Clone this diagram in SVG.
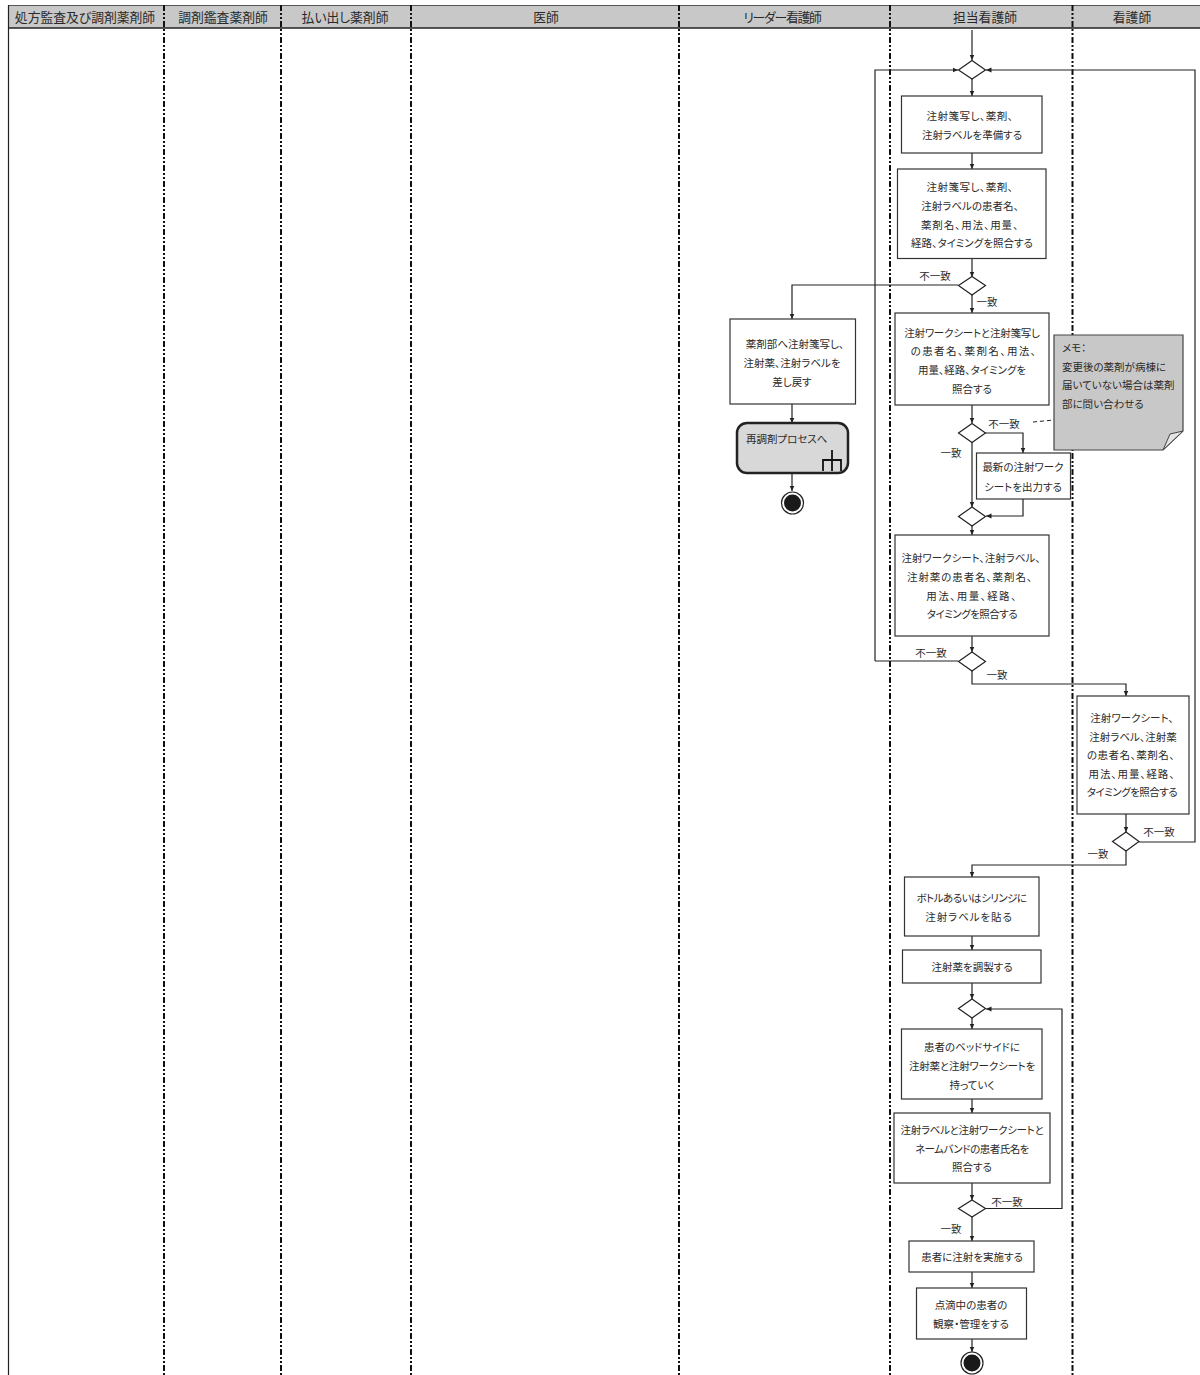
<svg xmlns="http://www.w3.org/2000/svg" width="1200" height="1375" viewBox="0 0 1200 1375">
<style>
text{font-family:"Noto Sans CJK JP","Noto Sans",sans-serif;fill:#2a2a2a;font-size:10.5px;text-anchor:middle;font-feature-settings:"palt"}
.h{font-size:12.8px}
.l{text-anchor:start}
.b{fill:#fff;stroke:#333;stroke-width:1.2}
.d{fill:#fff;stroke:#222;stroke-width:1.2}
.c{fill:none;stroke:#222;stroke-width:1.2}
.lane{stroke:#111;stroke-width:2;stroke-dasharray:6 2 2 2 2 2;fill:none}
.s1{letter-spacing:.5px}
.s2{letter-spacing:.9px}
.s3{letter-spacing:1.4px}
.n1{letter-spacing:-.5px}
.t{letter-spacing:-1.2px}
</style>
<defs>
<marker id="a" markerWidth="6" markerHeight="6" refX="5.500" refY="3" orient="auto" markerUnits="userSpaceOnUse"><path d="M0 0.500L5.500 3L0 5.500z" fill="#222"/></marker>
</defs>
<rect width="1200" height="1375" fill="#fff"/>
<g id="header">
<rect x="8" y="5" width="1192" height="23" fill="#c8c8c8"/>
<path d="M8 5.500H1200" stroke="#555" stroke-width="1"/>
<path d="M8 28H1200" stroke="#222" stroke-width="1.500"/>
<path d="M8.500 5V1375" stroke="#222" stroke-width="1.200"/>
<text class="h" x="85" y="22">処方監査及び調剤薬剤師</text>
<text class="h" x="223" y="22">調剤鑑査薬剤師</text>
<text class="h" x="345" y="22">払い出し薬剤師</text>
<text class="h" x="546" y="22">医師</text>
<text class="h t" x="782" y="22">リーダー看護師</text>
<text class="h" x="985" y="22">担当看護師</text>
<text class="h" x="1132" y="22">看護師</text>
</g>
<g id="lanes">
<path class="lane" d="M164 5V1375"/>
<path class="lane" d="M281 5V1375"/>
<path class="lane" d="M411 5V1375"/>
<path class="lane" d="M679 5V1375"/>
<path class="lane" d="M890 5V1375"/>
<path class="lane" d="M1072.500 5V1375"/>
</g>
<g id="connectors">
<path class="c" marker-end="url(#a)" d="M972 30V60"/>
<path class="c" marker-end="url(#a)" d="M875 661V70H958"/>
<path class="c" marker-end="url(#a)" d="M1139 842H1195V70H986"/>
<path class="c" marker-end="url(#a)" d="M972 79V96"/>
<path class="c" marker-end="url(#a)" d="M972 153V169"/>
<path class="c" marker-end="url(#a)" d="M972 258V277"/>
<path class="c" marker-end="url(#a)" d="M958 285H792V319"/>
<path class="c" marker-end="url(#a)" d="M972 295V313"/>
<path class="c" marker-end="url(#a)" d="M792 404V423"/>
<path class="c" marker-end="url(#a)" d="M792 473V491"/>
<path class="c" marker-end="url(#a)" d="M972 405V423"/>
<path class="c" marker-end="url(#a)" d="M985 433H1023V453"/>
<path class="c" marker-end="url(#a)" d="M972 442V507"/>
<path class="c" marker-end="url(#a)" d="M1023 499V516H986"/>
<path class="c" marker-end="url(#a)" d="M972 526V535"/>
<path class="c" marker-end="url(#a)" d="M972 636V652"/>
<path class="c" d="M958 661H875"/>
<path class="c" marker-end="url(#a)" d="M972 671V684H1126V696"/>
<path class="c" marker-end="url(#a)" d="M1126 814V832"/>
<path class="c" marker-end="url(#a)" d="M1126 851V865H972V877"/>
<path class="c" marker-end="url(#a)" d="M972 936V950"/>
<path class="c" marker-end="url(#a)" d="M972 983V999"/>
<path class="c" marker-end="url(#a)" d="M972 1018V1029"/>
<path class="c" marker-end="url(#a)" d="M972 1099V1113"/>
<path class="c" marker-end="url(#a)" d="M972 1183V1200"/>
<path class="c" marker-end="url(#a)" d="M985 1208.500H1062V1009H986"/>
<path class="c" marker-end="url(#a)" d="M972 1217V1241"/>
<path class="c" marker-end="url(#a)" d="M972 1272V1288"/>
<path class="c" marker-end="url(#a)" d="M972 1339V1352"/>
<path d="M1033 422L1054 420" stroke="#222" stroke-width="1" stroke-dasharray="4 3" fill="none"/>
</g>
<g id="d1"><path class="d" d="M958.500 70L972 60.500L985.500 70L972 79z"/></g>
<g id="n1"><rect class="b" x="901.500" y="96" width="140.500" height="57"/><text class="s1" x="970" y="120">注射箋写し、薬剤、</text><text x="972" y="139">注射ラベルを準備する</text></g>
<g id="n2"><rect class="b" x="897.500" y="169" width="148.500" height="89.500"/><text class="s1" x="970" y="191">注射箋写し、薬剤、</text><text x="970" y="210">注射ラベルの患者名、</text><text class="s2" x="970" y="229">薬剤名、用法、用量、</text><text x="972" y="247">経路、タイミングを照合する</text></g>
<g id="d2"><path class="d" d="M958.500 285.500L972 276.500L985.500 285.500L972 295z"/></g>
<g id="n3"><rect class="b" x="730" y="319" width="125.500" height="85"/><text x="795" y="348">薬剤部へ注射箋写し、</text><text x="792" y="367">注射薬、注射ラベルを</text><text x="792" y="386">差し戻す</text></g>
<g id="sub"><rect x="737" y="423" width="111" height="50" rx="10" fill="#d8d8d8" stroke="#222" stroke-width="2.500"/><text class="l" x="746" y="443">再調剤プロセスへ</text><path d="M823 471V460H841V471M832 450V471" fill="none" stroke="#111" stroke-width="1.800"/></g>
<g id="end1"><circle cx="792.500" cy="503" r="11" fill="#fff" stroke="#222" stroke-width="1.200"/><circle cx="792.500" cy="503" r="8.500" fill="#1a1a1a"/></g>
<g id="n4"><rect class="b" x="895" y="313" width="154" height="92"/><text x="972" y="337" style="letter-spacing:-.2px">注射ワークシートと注射箋写し</text><text class="s3" x="974" y="355">の患者名、薬剤名、用法、</text><text x="972" y="374">用量、経路、タイミングを</text><text x="972" y="393">照合する</text></g>
<g id="d3"><path class="d" d="M958.500 433L972 423.500L985.500 433L972 442.500z"/></g>
<g id="n5"><rect class="b" x="976.500" y="453" width="94" height="46"/><text x="1023" y="471">最新の注射ワーク</text><text x="1023" y="491">シートを出力する</text></g>
<g id="memo"><path d="M1054 335H1183V431L1163 450H1054z" fill="#c8c8c8" stroke="#444" stroke-width="1.200"/><path d="M1183 431L1170 434L1163 450z" fill="#e4e4e4" stroke="#444" stroke-width="1"/><text class="l" x="1062" y="352">メモ：</text><text class="l" x="1062" y="371">変更後の薬剤が病棟に</text><text class="l" x="1062" y="389">届いていない場合は薬剤</text><text class="l" x="1062" y="408">部に問い合わせる</text></g>
<g id="d4"><path class="d" d="M958.500 516.500L972 507L985.500 516.500L972 526z"/></g>
<g id="n6"><rect class="b" x="895" y="535" width="154" height="101"/><text x="971" y="562">注射ワークシート、注射ラベル、</text><text class="s2" x="970" y="581">注射薬の患者名、薬剤名、</text><text class="s3" x="972" y="600">用法、用量、経路、</text><text class="n1" x="972" y="618">タイミングを照合する</text></g>
<g id="d5"><path class="d" d="M958.500 661.500L972 652L985.500 661.500L972 671z"/></g>
<g id="n7"><rect class="b" x="1077" y="696" width="112" height="118"/><text x="1132" y="722">注射ワークシート、</text><text x="1133" y="741">注射ラベル、注射薬</text><text class="s1" x="1131" y="759">の患者名、薬剤名、</text><text class="s2" x="1132" y="778">用法、用量、経路、</text><text class="n1" x="1132" y="796">タイミングを照合する</text></g>
<g id="d6"><path class="d" d="M1112.500 841.500L1126 832L1139 841.500L1126 851z"/></g>
<g id="n8"><rect class="b" x="904.500" y="877" width="134.500" height="59"/><text class="n1" x="971.500" y="902">ボトルあるいはシリンジに</text><text class="s2" x="969" y="921">注射ラベルを貼る</text></g>
<g id="n9"><rect class="b" x="902.500" y="950" width="138.500" height="33"/><text x="972" y="971">注射薬を調製する</text></g>
<g id="d7"><path class="d" d="M958.500 1008.500L972 999L985.500 1008.500L972 1018z"/></g>
<g id="n10"><rect class="b" x="901.500" y="1029" width="140.500" height="70"/><text x="972" y="1051">患者のベッドサイドに</text><text x="972" y="1070" style="letter-spacing:-.2px">注射薬と注射ワークシートを</text><text x="972" y="1089">持っていく</text></g>
<g id="n11"><rect class="b" x="894" y="1113" width="156" height="70"/><text x="972" y="1134" style="letter-spacing:-.3px">注射ラベルと注射ワークシートと</text><text class="n1" x="972" y="1153">ネームバンドの患者氏名を</text><text x="972" y="1171">照合する</text></g>
<g id="d8"><path class="d" d="M958.500 1208.500L972 1200L985.500 1208.500L972 1217z"/></g>
<g id="n12"><rect class="b" x="909" y="1241" width="125" height="31"/><text x="972" y="1261">患者に注射を実施する</text></g>
<g id="n13"><rect class="b" x="916.500" y="1288" width="110" height="51"/><text x="971" y="1309">点滴中の患者の</text><text x="971" y="1328">観察・管理をする</text></g>
<g id="end2"><circle cx="972" cy="1363" r="11" fill="#fff" stroke="#222" stroke-width="1.200"/><circle cx="972" cy="1363" r="8.500" fill="#1a1a1a"/></g>
<g id="labels">
<text x="935" y="280">不一致</text>
<text x="987" y="306">一致</text>
<text x="1004" y="428">不一致</text>
<text x="951" y="457">一致</text>
<text x="931" y="657">不一致</text>
<text x="997" y="679">一致</text>
<text x="1159" y="836">不一致</text>
<text x="1098" y="858">一致</text>
<text x="1007" y="1206">不一致</text>
<text x="951" y="1233">一致</text>
</g>
</svg>
